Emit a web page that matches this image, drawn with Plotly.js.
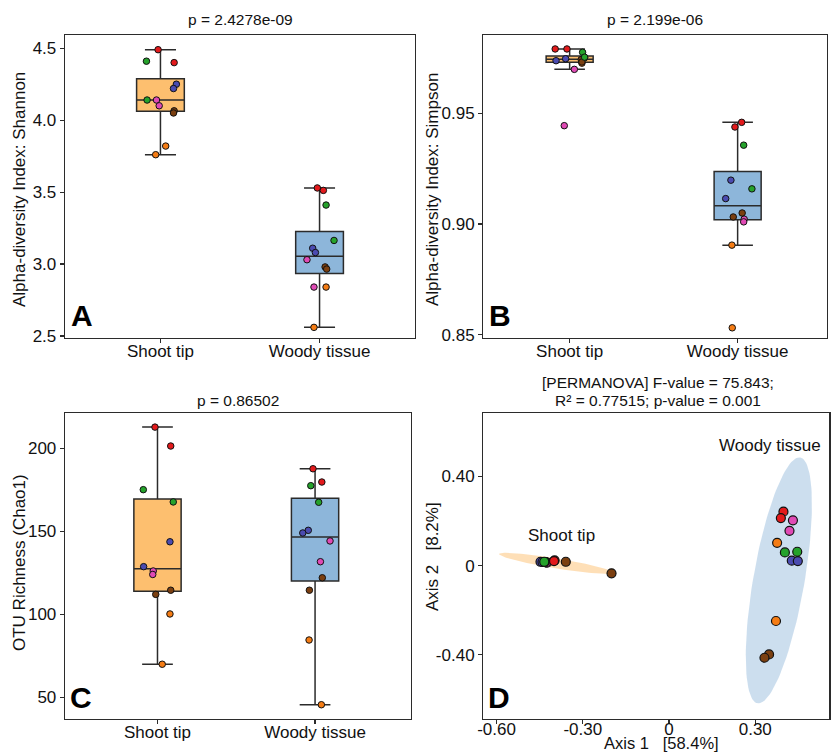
<!DOCTYPE html>
<html>
<head>
<meta charset="utf-8">
<script src="https://cdn.plot.ly/plotly-3.0.1.min.js"></script>
<style>html,body{margin:0;padding:0;background:#fff;}#chart{width:833px;height:753px;}</style>
</head>
<body>
<div id="chart"></div>
<script>
// ---------------- DATA ----------------
const groups = ['Shoot tip', 'Woody tissue'];
const sites = ['orange', 'brown', 'pink', 'blue', 'green', 'red'];
const siteColors = {orange:'#F57C14', brown:'#7B3F10', pink:'#E04AB5', blue:'#4B4BB0', green:'#25A22B', red:'#E31A1C'};
// two replicates per site, in the order of `sites`
const shannonShoot = [3.82, 3.76, 4.065, 4.05, 4.14, 4.10, 4.25, 4.22, 4.41, 4.14, 4.49, 4.40];
const shannonWoody = [2.84, 2.56, 2.98, 2.965, 3.03, 2.84, 3.11, 3.08, 3.41, 3.164, 3.529, 3.512];
const simpsonShoot = [0.9726, 0.9750, 0.9742, 0.9731, 0.9698, 0.9444, 0.9737, 0.9746, 0.9775, 0.9753, 0.9790, 0.9790];
const simpsonWoody = [0.8905, 0.8532, 0.9050, 0.9032, 0.9022, 0.9010, 0.9198, 0.9115, 0.9356, 0.9159, 0.9459, 0.9438];
const chaoShoot = [100.2, 69.9, 112.0, 114.5, 126.1, 124.0, 143.7, 128.7, 175.1, 167.7, 212.8, 201.4];
const chaoWoody = [84.5, 45.5, 122.0, 114.5, 144.2, 131.7, 150.6, 149.0, 177.5, 167.5, 187.7, 179.7];
// horizontal jitter of each point (category units)
const jitShannonShoot = [0.033, -0.03, 0.086, 0.082, -0.025, -0.008, 0.10, 0.082, -0.088, -0.084, -0.015, 0.086];
const jitShannonWoody = [0.041, -0.035, 0.035, 0.045, -0.079, -0.035, -0.043, -0.026, 0.041, 0.091, -0.014, 0.024];
const jitSimpsonShoot = [0.073, 0.089, 0.069, 0.073, 0.028, -0.032, -0.081, -0.024, 0.077, 0.089, -0.086, -0.016];
const jitSimpsonWoody = [-0.034, -0.032, 0.027, -0.026, 0.039, 0.036, -0.04, -0.071, 0.036, 0.085, 0.024, -0.016];
const jitChaoShoot = [0.079, 0.03, -0.011, 0.084, -0.027, -0.03, 0.079, -0.088, -0.09, 0.1, -0.016, 0.084];
const jitChaoWoody = [-0.038, 0.04, 0.046, -0.036, 0.095, 0.034, -0.043, -0.078, -0.027, 0.023, -0.013, 0.043];
// PCoA coordinates
const pcoaShootX = [-0.43, -0.44, -0.359, -0.2, -0.424, -0.428, -0.447, -0.44, -0.432, -0.434, -0.398, -0.40];
const pcoaShootY = [0.015, 0.016, 0.017, -0.035, 0.013, 0.014, 0.017, 0.016, 0.016, 0.017, 0.023, 0.020];
const pcoaWoodyX = [0.376, 0.372, 0.348, 0.332, 0.431, 0.419, 0.427, 0.448, 0.403, 0.446, 0.398, 0.389];
const pcoaWoodyY = [0.102, -0.249, -0.399, -0.414, 0.203, 0.156, 0.022, 0.020, 0.059, 0.062, 0.242, 0.213];
// confidence ellipses: centre, semi-axis vectors u and v (data units)
const ellipseShoot = {c:[-0.3927, 0.0099], u:[0.1986, -0.0418], v:[-0.0028, -0.0221]};
const ellipseWoody = {c:[0.382, -0.0665], u:[0.0742, 0.552], v:[0.0879, -0.0196]};

// ---------------- STYLE ----------------
const FONT = 'Liberation Sans, Arial, Helvetica, sans-serif';
const boxFill = ['#FDBF6F', '#8DB6DA'];
const ellFill = ['rgba(253,191,111,0.5)', 'rgba(141,182,218,0.45)'];
const lineCol = '#2b2b2b';
const pointColors = sites.flatMap(s => [siteColors[s], siteColors[s]]);

// box statistics as in R (quantile type 7, whiskers at 1.5 IQR)
function quant(sorted, p) {
  const h = (sorted.length - 1) * p, lo = Math.floor(h), hi = Math.ceil(h);
  return sorted[lo] + (h - lo) * (sorted[hi] - sorted[lo]);
}
function boxStats(vals) {
  const s = vals.slice().sort((a, b) => a - b);
  const q1 = quant(s, 0.25), med = quant(s, 0.5), q3 = quant(s, 0.75), iqr = q3 - q1;
  const lo = Math.min(...s.filter(v => v >= q1 - 1.5 * iqr));
  const hi = Math.max(...s.filter(v => v <= q3 + 1.5 * iqr));
  return {q1, med, q3, lo, hi};
}

const traces = [];
function addBoxPanel(ax, vals, jits, boxW) {
  vals.forEach((v, g) => {
    const st = boxStats(v);
    traces.push({type:'box', x:[g], q1:[st.q1], median:[st.med], q3:[st.q3],
      lowerfence:[st.lo], upperfence:[st.hi], xaxis:'x'+ax, yaxis:'y'+ax,
      fillcolor:boxFill[g], line:{color:lineCol, width:1.5}, width:boxW,
      whiskerwidth:0.65, boxpoints:false, hoverinfo:'skip', showlegend:false});
  });
  vals.forEach((v, g) => {
    traces.push({type:'scatter', mode:'markers', xaxis:'x'+ax, yaxis:'y'+ax,
      x: jits[g].map(j => g + j), y: v,
      marker:{color:pointColors, size:6.5, line:{color:'#111', width:1}},
      hoverinfo:'skip', showlegend:false});
  });
}
addBoxPanel('', [shannonShoot, shannonWoody], [jitShannonShoot, jitShannonWoody], 0.3);
addBoxPanel('2', [simpsonShoot, simpsonWoody], [jitSimpsonShoot, jitSimpsonWoody], 0.28);
addBoxPanel('3', [chaoShoot, chaoWoody], [jitChaoShoot, jitChaoWoody], 0.3);

function ellipsePts(e) {
  const xs = [], ys = [];
  for (let i = 0; i <= 120; i++) {
    const t = 2 * Math.PI * i / 120;
    xs.push(e.c[0] + e.u[0] * Math.cos(t) + e.v[0] * Math.sin(t));
    ys.push(e.c[1] + e.u[1] * Math.cos(t) + e.v[1] * Math.sin(t));
  }
  return [xs, ys];
}
[ellipseShoot, ellipseWoody].forEach((e, g) => {
  const p = ellipsePts(e);
  traces.push({type:'scatter', mode:'lines', x:p[0], y:p[1], xaxis:'x4', yaxis:'y4',
    fill:'toself', fillcolor:ellFill[g], line:{width:0, color:'rgba(0,0,0,0)'},
    hoverinfo:'skip', showlegend:false});
});
[[pcoaShootX, pcoaShootY], [pcoaWoodyX, pcoaWoodyY]].forEach(d => {
  traces.push({type:'scatter', mode:'markers', x:d[0], y:d[1], xaxis:'x4', yaxis:'y4',
    marker:{color:pointColors, size:9, line:{color:'#111', width:1.2}},
    hoverinfo:'skip', showlegend:false});
});

// ---------------- LAYOUT ----------------
const W = 833, H = 753;
const px = v => v / W, py = v => 1 - v / H;
function axBase(extra) {
  return Object.assign({showline:true, mirror:true, linecolor:lineCol, linewidth:1.3,
    ticks:'outside', ticklen:4, tickwidth:1.2, tickcolor:lineCol,
    showgrid:false, zeroline:false, fixedrange:true,
    tickfont:{family:FONT, size:17, color:'#111'}}, extra);
}
const catTicks = {type:'linear', tickmode:'array', tickvals:[0, 1], ticktext:groups, ticklabelstandoff:-7};

const layout = {
  width:W, height:H, margin:{l:0, r:0, t:0, b:0},
  paper_bgcolor:'#fff', plot_bgcolor:'#fff', showlegend:false, boxmode:'overlay',
  font:{family:FONT, color:'#111'},
  xaxis: axBase(Object.assign({domain:[px(65), px(415)], range:[-0.6, 1.6], anchor:'y'}, catTicks)),
  yaxis: axBase({domain:[py(338), py(35)], range:[2.486, 4.592], anchor:'x',
    tickmode:'array', tickvals:[2.5, 3, 3.5, 4, 4.5], ticktext:['2.5', '3.0', '3.5', '4.0', '4.5']}),
  xaxis2: axBase(Object.assign({domain:[px(483.3), px(827)], range:[-0.514, 1.532], anchor:'y2'}, catTicks)),
  yaxis2: axBase({domain:[py(338), py(35)], range:[0.8486, 0.9853], anchor:'x2',
    tickmode:'array', tickvals:[0.85, 0.90, 0.95], ticktext:['0.85', '0.90', '0.95']}),
  xaxis3: axBase(Object.assign({domain:[px(65), px(410.7)], range:[-0.587, 1.607], anchor:'y3'}, catTicks)),
  yaxis3: axBase({domain:[py(719), py(413)], range:[36.9, 221.3], anchor:'x3',
    tickmode:'array', tickvals:[50, 100, 150, 200], ticktext:['50', '100', '150', '200']}),
  xaxis4: axBase({domain:[px(483.3), px(829.3)], range:[-0.646, 0.5575], anchor:'y4',
    tickmode:'array', tickvals:[-0.6, -0.3, 0, 0.3], ticktext:['-0.60', '-0.30', '0', '0.30'], ticklabelstandoff:-10}),
  yaxis4: axBase({domain:[py(719), py(413)], range:[-0.689, 0.685], anchor:'x4',
    tickmode:'array', tickvals:[-0.4, 0, 0.4], ticktext:['-0.40', '0', '0.40']}),
  annotations: []
};

function ann(text, x, y, opts) {
  layout.annotations.push(Object.assign({text:text, x:px(x), y:py(y), xref:'paper', yref:'paper',
    showarrow:false, xanchor:'center', yanchor:'middle',
    font:{family:FONT, size:15.5, color:'#111'}}, opts || {}));
}
// panel titles
ann('p = 2.4278e-09', 240, 20);
ann('p = 2.199e-06', 655, 20);
ann('p = 0.86502', 238, 400);
ann('[PERMANOVA] F-value = 75.843;', 658, 382);
ann('R² = 0.77515; p-value = 0.001', 658, 400);
// axis titles
const tf = {family:FONT, size:17, color:'#111'};
ann('Axis 1   [58.4%]', 661, 753, {yanchor:'bottom', borderpad:0, font:{family:FONT, size:16.5, color:'#111'}});
ann('Alpha-diversity Index: Shannon', 19, 190, {textangle:-90, font:tf});
ann('Alpha-diversity Index: Simpson', 432, 190, {textangle:-90, font:tf});
ann('OTU Richness (Chao1)', 19, 563, {textangle:-90, font:tf});
ann('Axis 2   [8.2%]', 432, 557, {textangle:-90, font:tf});
// panel letters
const lf = {family:FONT, size:30, color:'#000', weight:'bold'};
ann('<b>A</b>', 69, 315, {xanchor:'left', font:lf});
ann('<b>B</b>', 487, 315, {xanchor:'left', font:lf});
ann('<b>C</b>', 68, 697, {xanchor:'left', font:lf});
ann('<b>D</b>', 486, 697, {xanchor:'left', font:lf});
// group labels in PCoA
layout.annotations.push({text:'Shoot tip', x:-0.373, y:0.136, xref:'x4', yref:'y4', showarrow:false,
  font:tf, xanchor:'center', yanchor:'middle'});
layout.annotations.push({text:'Woody tissue', x:0.352, y:0.537, xref:'x4', yref:'y4', showarrow:false,
  font:tf, xanchor:'center', yanchor:'middle'});

Plotly.newPlot('chart', traces, layout, {displayModeBar:false, staticPlot:true});
</script>
</body>
</html>
